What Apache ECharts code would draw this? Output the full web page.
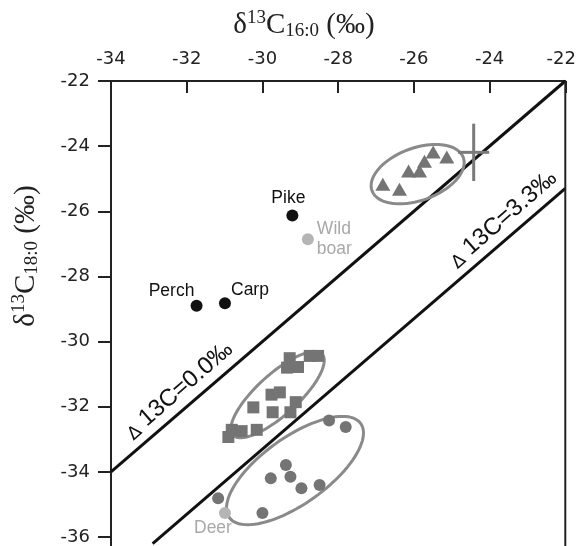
<!DOCTYPE html>
<html><head><meta charset="utf-8">
<script src="https://cdn.jsdelivr.net/npm/echarts@6/dist/echarts.min.js"></script>
<style>html,body{margin:0;padding:0;background:#fff}#c{width:579px;height:546px}</style>
</head><body><div id="c"></div>
<script>
// ---- data ----
const triangles = [[-26.82,-25.17],[-26.38,-25.32],[-26.14,-24.76],[-25.85,-24.76],[-25.72,-24.46],[-25.49,-24.18],[-25.13,-24.33]];
const squares = [[-29.28,-30.51],[-29.06,-30.78],[-29.35,-30.80],[-28.75,-30.44],[-28.53,-30.44],[-29.76,-31.63],[-29.54,-31.56],
  [-30.24,-32.02],[-29.73,-32.17],[-29.12,-31.86],[-29.26,-32.17],[-30.81,-32.71],[-30.55,-32.75],[-30.15,-32.71],[-30.90,-32.93]];
const circles = [[-28.24,-32.42],[-27.80,-32.62],[-29.38,-33.79],[-29.78,-34.20],[-29.26,-34.15],[-28.97,-34.50],[-28.49,-34.40],[-30.00,-35.26],[-31.17,-34.81]];
const fishNames = ['Perch','Carp','Pike'];
const fishValues = [[-31.74,-28.90],[-30.99,-28.82],[-29.21,-26.13]];
const mammalNames = ['Wild\nboar','Deer'];
const mammalValues = [[-28.80,-26.86],[-30.99,-35.26]];
// ellipses: centre, half-major-axis vector (data units), minor/major ratio
const ellipseCenters = [[-25.90,-24.86],[-29.60,-31.63],[-29.14,-33.96]];
const ellipseAxes = [[1.206,0.508],[1.178,1.239],[1.736,1.443]];
const ellipseRatios = [0.54,0.34,0.41];
// mean +/- sd cross: [x, y, xerr, yerr]
const crossData = [[-24.42,-24.19,0.41,0.88]];
// reference lines  d13C18:0 = d13C16:0 - delta
const deltaLabels = ['0.0','3.3'];
const line0 = [[-34,-34],[-22,-22]];
const line33 = [[-32.9,-36.2],[-22,-25.3]];
const deltaLabelPos = [[-32.21,-31.50],[-23.65,-26.24]];
const xMin = -34, xMax = -22, yMin = -36, yMax = -22, tickStep = 2;
const frameRight = [[-22,-22],[-22,-36.3]];
const frameLeftExt = [[-34,-36],[-34,-36.3]];

const SANS = '"Liberation Sans", Arial, sans-serif';
const TICKFONT = '"DejaVu Sans", sans-serif';
const SERIF = '"Liberation Serif", "Times New Roman", serif';
const GREY = '#747474';

const chart = echarts.init(document.getElementById('c'), null, {renderer:'canvas'});

function ellipseItem(params, api){
  const cx=api.value(0), cy=api.value(1), mx=api.value(2), my=api.value(3), r=api.value(4);
  const c=api.coord([cx,cy]), e=api.coord([cx+mx,cy+my]);
  const vx=e[0]-c[0], vy=e[1]-c[1];
  const px=-vy*r, py=vx*r;
  const pts=[];
  for(let i=0;i<96;i++){
    const t=i/96*Math.PI*2;
    pts.push([c[0]+Math.cos(t)*vx+Math.sin(t)*px, c[1]+Math.cos(t)*vy+Math.sin(t)*py]);
  }
  return {type:'polygon', shape:{points:pts}, style:{fill:'none', stroke:'#8a8a8a', lineWidth:3}};
}
function crossItem(params, api){
  const x=api.value(0), y=api.value(1), dx=api.value(2), dy=api.value(3);
  const l=api.coord([x-dx,y]), r=api.coord([x+dx,y]), t=api.coord([x,y+dy]), b=api.coord([x,y-dy]);
  const st={stroke:'#7a7a7a', lineWidth:3};
  return {type:'group', children:[
    {type:'line', shape:{x1:l[0],y1:l[1],x2:r[0],y2:r[1]}, style:st},
    {type:'line', shape:{x1:t[0],y1:t[1],x2:b[0],y2:b[1]}, style:st}
  ]};
}
function deltaItem(params, api){
  const c=api.coord([api.value(0), api.value(1)]);
  return {type:'text', x:c[0], y:c[1], rotation:41*Math.PI/180, style:{
    text:'{d|Δ}{t| 13C='+deltaLabels[params.dataIndex]+'‰}', align:'center', verticalAlign:'middle',
    rich:{d:{fontSize:18, fontFamily:'"DejaVu Sans", sans-serif', fill:'#111', padding:[7,0,0,0]},
          t:{fontSize:24, fontFamily:SANS, fill:'#111'}}
  }};
}

const fishLabelCfg = [
  {position:'top', distance:3, offset:[-25,3]},
  {position:'top', distance:3, offset:[25,5]},
  {position:'top', distance:4, offset:[-4,2]}
];
const mammalLabelCfg = [
  {position:'right', distance:3, offset:[0,0], align:'left', lineHeight:20},
  {position:'bottom', distance:0, offset:[-12,0]}
];

const titleRich = {
  a:{fontFamily:SERIF, fontSize:29, fill:'#222'},
  s:{fontFamily:SERIF, fontSize:19, fill:'#222', padding:[0,0,13,0]},
  b:{fontFamily:SERIF, fontSize:19, fill:'#222', padding:[12,0,0,0]}
};

const option = {
  animation:false,
  backgroundColor:'#fff',
  grid:{left:111, right:13, top:81, bottom:5},
  xAxis:{
    type:'value', position:'top', min:xMin, max:xMax, interval:tickStep,
    axisLine:{show:true, onZero:false, lineStyle:{color:'#222', width:2}},
    axisTick:{show:true, inside:true, length:12, lineStyle:{color:'#222', width:2}},
    axisLabel:{margin:13, color:'#222', fontSize:18, fontFamily:TICKFONT,
      formatter:v=> v===xMax ? '{m|'+v+'}' : String(v),
      rich:{m:{fontSize:18, fontFamily:TICKFONT, color:'#222', padding:[0,8,0,0]}}},
    splitLine:{show:false}
  },
  yAxis:{
    type:'value', min:yMin, max:yMax, interval:tickStep,
    axisLine:{show:true, onZero:false, lineStyle:{color:'#222', width:2}},
    axisTick:{show:true, inside:false, length:13, lineStyle:{color:'#222', width:2}},
    axisLabel:{margin:21, color:'#222', fontSize:18, fontFamily:TICKFONT},
    splitLine:{show:false}
  },
  graphic:[
    {type:'text', x:304, y:25, style:{
      text:'{a|δ}{s|13}{a|C}{b|16:0}{a| (‰)}', align:'center', verticalAlign:'middle', rich:titleRich}},
    {type:'text', x:26, y:256, rotation:Math.PI/2, style:{
      text:'{a|δ}{s|13}{a|C}{b|18:0}{a| (‰)}', align:'center', verticalAlign:'middle', rich:titleRich}}
  ],
  series:[
    {type:'line', data:line0, symbol:'none', clip:false, silent:true, lineStyle:{color:'#111', width:3}, z:3},
    {type:'line', data:line33, symbol:'none', clip:false, silent:true, lineStyle:{color:'#111', width:3}, z:3},
    {type:'line', data:frameRight, symbol:'none', clip:false, silent:true, lineStyle:{color:'#222', width:2}, z:3},
    {type:'line', data:frameLeftExt, symbol:'none', clip:false, silent:true, lineStyle:{color:'#222', width:2}, z:3},
    {type:'custom', renderItem:ellipseItem, clip:false, silent:true, z:4,
      dimensions:['x','y','mx','my','r'], encode:{x:0,y:1},
      data:ellipseCenters.map((c,i)=>[c[0],c[1],ellipseAxes[i][0],ellipseAxes[i][1],ellipseRatios[i]])},
    {type:'custom', renderItem:crossItem, clip:false, silent:true, z:4,
      dimensions:['x','y','dx','dy'], encode:{x:0,y:1}, data:crossData},
    {type:'custom', renderItem:deltaItem, clip:false, silent:true, z:6,
      dimensions:['x','y'], encode:{x:0,y:1}, data:deltaLabelPos},
    {type:'scatter', data:triangles, symbol:'triangle', symbolSize:[15,13], itemStyle:{color:GREY, opacity:1}, z:5},
    {type:'scatter', data:squares, symbol:'rect', symbolSize:12, itemStyle:{color:GREY, opacity:1}, z:5},
    {type:'scatter', data:circles, symbol:'circle', symbolSize:12, itemStyle:{color:GREY, opacity:1}, z:5},
    {type:'scatter', symbol:'circle', symbolSize:12, itemStyle:{color:'#111', opacity:1}, z:6,
      data:fishValues.map((v,i)=>({value:v, name:fishNames[i], label:fishLabelCfg[i]})),
      label:{show:true, formatter:'{b}', color:'#111', fontSize:17.5, fontFamily:SANS}},
    {type:'scatter', symbol:'circle', symbolSize:12, itemStyle:{color:'#b5b5b5', opacity:1}, z:6,
      data:mammalValues.map((v,i)=>({value:v, name:mammalNames[i], label:mammalLabelCfg[i]})),
      label:{show:true, formatter:'{b}', color:'#a8a8a8', fontSize:17.5, fontFamily:SANS}}
  ]
};
chart.setOption(option);
</script></body></html>
